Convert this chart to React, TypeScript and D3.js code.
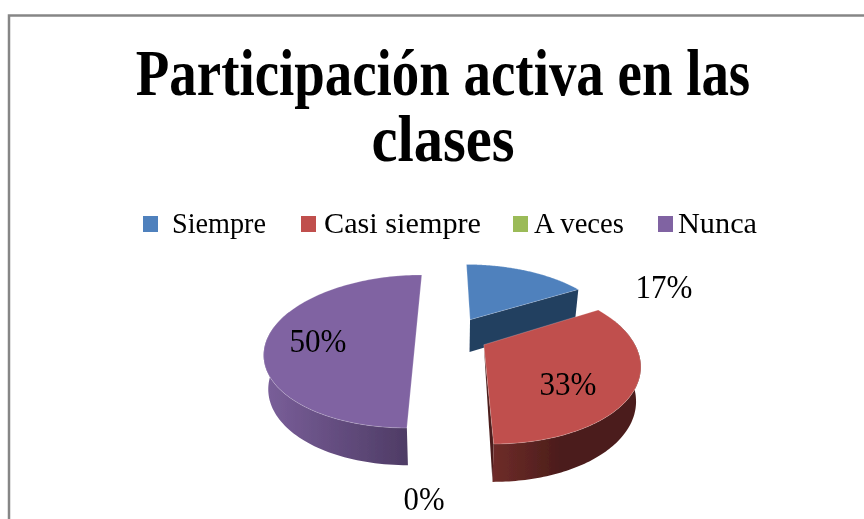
import React from "react";
import * as d3 from "d3";

const categories = ["Siempre", "Casi siempre", "A veces", "Nunca"];
const values = [1, 2, 0, 3];
const topColors = ["#4F81BD", "#C0504D", "#9BBB59", "#8064A2"];
const wallFrom = ["#2A4A70", "#6E2C29", "#6E8440", "#7A5F9A"];
const wallTo = ["#243F60", "#4C1D1B", "#5E7236", "#4A3860"];
const titleLines = ["Participación activa en las", "clases"];

// exploded offset of each slice, in unit-disc coordinates
const explodeX = [0.15, 0.23, 0, -0.225];
const explodeY = [-0.22, 0.13, 0, 0];
const legendSwatchX = [143, 301, 513, 658];
const legendTextX = [172, 324, 534, 678];
const legendTextW = [94, 157, 90, 79];
const titleSqueeze = [0.832, 0.887];
const labelX = [664, 568, 424, 318];
const labelY = [298, 395, 510, 352];

const CX = 449, CY = 335, RX = 147, RY = 73, P = 0.215, DEPTH = 33;

function project(X: number, Y: number, z: number): [number, number] {
  const w = 1 / (1 - P * Y);
  const dx = RX * X * w * (1 - 0.025 * z);
  const sy = CY + RY * Y * w + z * DEPTH * Math.sqrt(w);
  return [CX + dx, sy];
}

export default function App() {
  const pie = d3.pie<number>().sort(null).startAngle(0).endAngle(2 * Math.PI);
  const arcs = pie(values);
  const total = d3.sum(values);
  const pct = d3.format(".0%");
  const line = d3.line();
  const order = [0, 3, 1];

  const slice = (i: number) => {
    const a = arcs[i];
    const ox = explodeX[i], oy = explodeY[i];
    const angles = d3.range(0, 121).map((k) => a.startAngle + ((a.endAngle - a.startAngle) * k) / 120);
    const pt = (t: number, z: number) => project(ox + Math.sin(t), oy - Math.cos(t), z);
    const apex = (z: number) => project(ox, oy, z);
    const top = [apex(0), ...angles.map((t) => pt(t, 0))];
    // only the part of the rim that faces the viewer shows a wall
    const front = angles.filter((t) => Math.cos(t) < 0.35);
    const wall = [...front.map((t) => pt(t, 0)), ...front.slice().reverse().map((t) => pt(t, 1))];
    const end = a.endAngle;
    const endFace =
      end < Math.PI - 0.01
        ? [apex(0), pt(end, 0), pt(end, 1), apex(1)]
        : end < Math.PI + 0.01
        ? [apex(0), pt(end, 0), pt(end, 1)]
        : null;
    return (
      <g key={i}>
        {endFace && <path d={line(endFace as any) + "Z"} fill={wallTo[i]} />}
        {wall.length > 0 && <path d={line(wall as any) + "Z"} fill={`url(#wall${i})`} />}
        <path d={line(top as any) + "Z"} fill={topColors[i]} stroke="#fff" strokeOpacity={0.35} strokeWidth={0.6} />
      </g>
    );
  };

  return (
    <svg width={864} height={519} style={{ position: "absolute", left: 0, top: 0, display: "block" }}>
      <defs>
        {categories.map((_, i) => {
          const xs = d3.range(0, 21).map((k) => {
            const t = arcs[i].startAngle + ((arcs[i].endAngle - arcs[i].startAngle) * k) / 20;
            return project(explodeX[i] + Math.sin(t), explodeY[i] - Math.cos(t), 0)[0];
          });
          return (
            <linearGradient key={i} id={`wall${i}`} gradientUnits="userSpaceOnUse" x1={d3.min(xs)} x2={d3.max(xs)} y1={0} y2={0}>
              <stop offset="0" stopColor={wallFrom[i]} />
              {i === 1 && <stop offset="0.45" stopColor={wallTo[i]} />}
              <stop offset="1" stopColor={wallTo[i]} />
            </linearGradient>
          );
        })}
        <filter id="soft"><feGaussianBlur stdDeviation="0.45" /></filter>
      </defs>
      <rect width={864} height={519} fill="#fff" />
      <path d="M9 519V15.5H864" fill="none" stroke="#868686" strokeWidth={2.5} />
      <g filter="url(#soft)">
        <g fontFamily="'Liberation Serif', serif" fill="#000">
          {titleLines.map((t, i) => (
            <text key={t} transform={`translate(443,${95 + i * 66}) scale(${titleSqueeze[i]},1)`} textAnchor="middle" fontSize={66} fontWeight={700}>{t}</text>
          ))}
          {categories.map((c, i) => (
            <g key={c}>
              <rect x={legendSwatchX[i]} y={216} width={15} height={16} fill={topColors[i]} />
              <text x={legendTextX[i]} y={233} fontSize={29} textLength={legendTextW[i]} lengthAdjust="spacingAndGlyphs">{c}</text>
            </g>
          ))}
        </g>
        {order.map(slice)}
        <g fontFamily="'Liberation Serif', serif" fill="#000" fontSize={33} textAnchor="middle">
          {categories.map((c, i) => (
            <text key={c} x={labelX[i]} y={labelY[i]} textLength={values[i] === 0 ? 41 : 57} lengthAdjust="spacingAndGlyphs">{pct(values[i] / total)}</text>
          ))}
        </g>
      </g>
    </svg>
  );
}
